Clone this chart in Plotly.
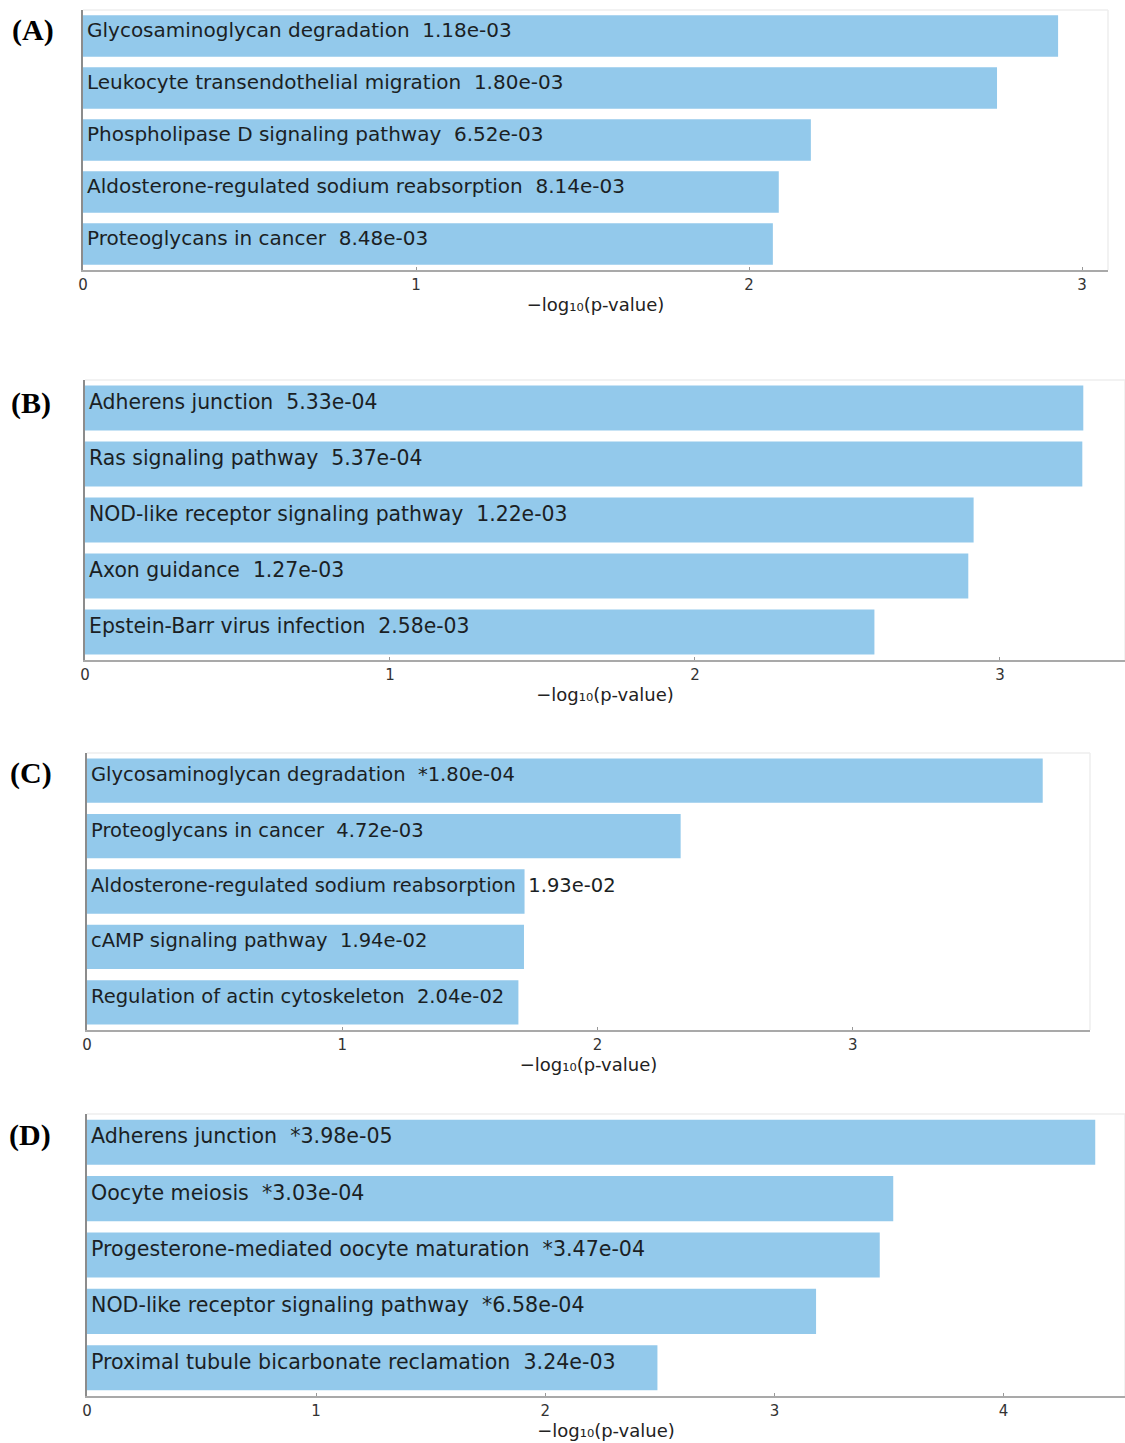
import numpy as np
import plotly.graph_objects as go
from plotly.subplots import make_subplots

# KEGG pathway enrichment, four gene sets
terms_a = ["Glycosaminoglycan degradation", "Leukocyte transendothelial migration",
           "Phospholipase D signaling pathway", "Aldosterone-regulated sodium reabsorption",
           "Proteoglycans in cancer"]
pvals_a = [1.18e-03, 1.80e-03, 6.52e-03, 8.14e-03, 8.48e-03]
flags_a = ["", "", "", "", ""]

terms_b = ["Adherens junction", "Ras signaling pathway", "NOD-like receptor signaling pathway",
           "Axon guidance", "Epstein-Barr virus infection"]
pvals_b = [5.33e-04, 5.37e-04, 1.22e-03, 1.27e-03, 2.58e-03]
flags_b = ["", "", "", "", ""]

terms_c = ["Glycosaminoglycan degradation", "Proteoglycans in cancer",
           "Aldosterone-regulated sodium reabsorption", "cAMP signaling pathway",
           "Regulation of actin cytoskeleton"]
pvals_c = [1.80e-04, 4.72e-03, 1.93e-02, 1.94e-02, 2.04e-02]
flags_c = ["*", "", "", "", ""]

terms_d = ["Adherens junction", "Oocyte meiosis", "Progesterone-mediated oocyte maturation",
           "NOD-like receptor signaling pathway", "Proximal tubule bicarbonate reclamation"]
pvals_d = [3.98e-05, 3.03e-04, 3.47e-04, 6.58e-04, 3.24e-03]
flags_d = ["*", "*", "*", "*", ""]

panel_tags = ["(A)", "(B)", "(C)", "(D)"]

W, H = 1125, 1443
BAR = "#93C9EB"
TXT = "#1b1f24"

# plot-area boxes in pixels: left, right, top, bottom, x max
boxes = [
    (83, 1108, 10, 270, 3.078),
    (85, 1125, 380, 660, 3.41),
    (87, 1090, 753, 1030, 3.93),
    (87, 1125, 1114, 1396, 4.53),
]
# label font size per panel (each panel was exported at a slightly different scale)
label_sizes = [20, 20.4, 19.5, 20.6]
tag_pos = [(33, 30), (31, 403), (31, 773), (30, 1135)]

panels = [
    (terms_a, pvals_a, flags_a),
    (terms_b, pvals_b, flags_b),
    (terms_c, pvals_c, flags_c),
    (terms_d, pvals_d, flags_d),
]

fig = make_subplots(rows=4, cols=1)
annotations = []
shapes = []

for k, ((terms, pvals, flags), box, fs) in enumerate(zip(panels, boxes, label_sizes)):
    row = k + 1
    score = -np.log10(np.array(pvals))
    ypos = list(range(len(terms)))
    fig.add_trace(go.Bar(x=score, y=ypos, orientation="h", width=0.8,
                         marker=dict(color=BAR, line=dict(width=0)),
                         showlegend=False, hoverinfo="x"), row=row, col=1)
    sfx = "" if k == 0 else str(k + 1)
    for i, (t, p, f) in enumerate(zip(terms, pvals, flags)):
        annotations.append(dict(
            x=0, y=i, xref="x" + sfx, yref="y" + sfx,
            text=f"{t}&nbsp;&nbsp;{f}{p:.2e}", showarrow=False,
            xanchor="left", yanchor="middle", xshift=2, yshift=6,
            font=dict(family="DejaVu Sans", size=fs, color=TXT)))
    left, right, top, bottom, xmax = box
    fig.update_xaxes(domain=[left / W, right / W], range=[0, xmax], automargin=False,
                     tickvals=list(range(0, int(xmax) + 1)),
                     showgrid=False, zeroline=False,
                     showline=True, linecolor="#a9a9a9", linewidth=2,
                     ticks="inside", ticklen=3, tickcolor="#999999",
                     tickfont=dict(family="DejaVu Sans", size=15, color="#333333"),
                     title=dict(text="\u2212log\u2081\u2080(p-value)", standoff=5,
                                font=dict(family="DejaVu Sans", size=18, color="#222222")),
                     row=row, col=1)
    fig.update_yaxes(domain=[1 - bottom / H, 1 - top / H], range=[4.5, -0.5],
                     automargin=False,
                     showticklabels=False, showgrid=False, zeroline=False,
                     showline=True, linecolor="#8c8c8c", linewidth=1.5, ticks="",
                     row=row, col=1)
    # faint frame on the top and right edges
    shapes.append(dict(type="line", xref="x" + sfx + " domain", yref="y" + sfx + " domain",
                       x0=0, x1=1, y0=1, y1=1, line=dict(color="#eeeeee", width=1.5)))
    shapes.append(dict(type="line", xref="x" + sfx + " domain", yref="y" + sfx + " domain",
                       x0=1, x1=1, y0=0, y1=1, line=dict(color="#eeeeee", width=1.5)))

for tag, (px, py) in zip(panel_tags, tag_pos):
    annotations.append(dict(x=px / W, y=1 - py / H, xref="paper", yref="paper",
                            text=f"<b>{tag}</b>", showarrow=False,
                            xanchor="center", yanchor="middle",
                            font=dict(family="Liberation Serif", size=30, color="#000000")))

fig.update_layout(width=W, height=H, margin=dict(l=0, r=0, t=0, b=0, autoexpand=False),
                  paper_bgcolor="white", plot_bgcolor="white",
                  annotations=annotations, shapes=shapes, bargap=0.2)

fig.write_html("out.html")
